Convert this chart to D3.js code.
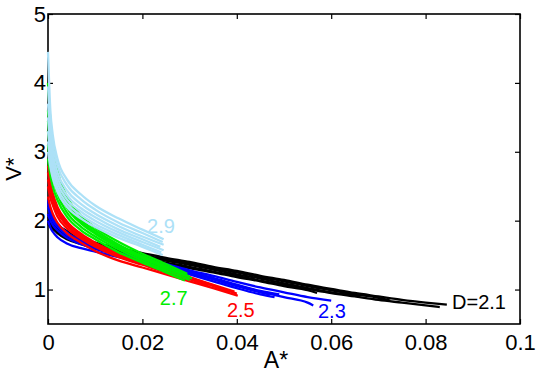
<!DOCTYPE html>
<html>
<head>
<meta charset="utf-8">
<script src="https://cdnjs.cloudflare.com/ajax/libs/d3/7.8.5/d3.min.js"></script>
<style>
body { margin: 0; background: #fff; }
svg { display: block; font-family: "Liberation Sans", Arial, Helvetica, sans-serif; }
.axis text { font-size: 22px; fill: #000; }
.axis line { stroke: #000; stroke-width: 1.2; }
.curve { fill: none; stroke-width: 2.3; stroke-linejoin: round; }
</style>
</head>
<body>
<div id="chart"></div>
<script>
// A* sample positions shared by every curve (each curve stops at its own end point)
var aGrid = [0, 0.0005, 0.001, 0.002, 0.004, 0.007, 0.01, 0.015, 0.02, 0.025, 0.03,
             0.035, 0.04, 0.045, 0.05, 0.055, 0.06, 0.065, 0.07, 0.075, 0.08];

var xTicks = [0, 0.02, 0.04, 0.06, 0.08, 0.1];
var yTicks = [1, 2, 3, 4, 5];

// D = 2.1
var d21Curves = [
    [2.1, 2.04, 2.0, 1.94, 1.85, 1.75, 1.68, 1.6, 1.53, 1.46, 1.4, 1.33, 1.27, 1.2, 1.14, 1.07, 1.01, 0.95, 0.9, 0.85, 0.81],
    [1.95, 1.91, 1.88, 1.84, 1.76, 1.68, 1.62, 1.54, 1.46, 1.39, 1.33, 1.26, 1.2, 1.13, 1.07, 1.01, 0.95, 0.9, 0.85, 0.81, 0.77],
    [2.05, 2.0, 1.96, 1.89, 1.81, 1.72, 1.65, 1.57, 1.5, 1.44, 1.38, 1.31, 1.25, 1.18, 1.12, 1.05, 0.99, 0.93, 0.88],
    [1.98, 1.93, 1.89, 1.82, 1.73, 1.66, 1.6, 1.52, 1.45, 1.38, 1.31, 1.25, 1.18, 1.12, 1.05, 0.99],
    [2.02, 1.97, 1.93, 1.87, 1.79, 1.7, 1.64, 1.56, 1.49, 1.42, 1.36, 1.29, 1.22, 1.16, 1.09, 1.02, 0.96, 0.91]
];
var d21Ends = [[0.0845, 0.78], [0.083, 0.745], [0.0725, 0.84], [0.057, 0.95], [0.066, 0.9]];

// D = 2.3
var d23Curves = [
    [2.3, 2.15, 2.06, 1.96, 1.83, 1.71, 1.63, 1.53, 1.45, 1.37, 1.28, 1.2, 1.11, 1.03, 0.96, 0.89],
    [2.0, 1.9, 1.84, 1.76, 1.67, 1.6, 1.55, 1.47, 1.4, 1.32, 1.24, 1.15, 1.06, 0.97, 0.89, 0.81],
    [2.2, 2.08, 2.0, 1.91, 1.79, 1.68, 1.61, 1.51, 1.43, 1.34, 1.25, 1.15, 1.05, 0.96],
    [2.1, 2.0, 1.94, 1.86, 1.75, 1.66, 1.59, 1.5, 1.41, 1.32, 1.22, 1.12, 1.02, 0.93],
    [2.25, 2.11, 2.03, 1.93, 1.81, 1.7, 1.62, 1.52, 1.44, 1.35, 1.26, 1.17, 1.07, 0.98]
];
var d23Ends = [[0.06, 0.84], [0.0562, 0.77], [0.047, 0.93], [0.048, 0.89], [0.049, 0.93]];

// D = 2.5
var d25Curves = [
    [2.35, 2.2, 2.1, 1.97, 1.82, 1.68, 1.56, 1.42, 1.32, 1.22, 1.12, 1.02],
    [2.8, 2.55, 2.4, 2.2, 1.99, 1.81, 1.68, 1.52, 1.4, 1.29, 1.18, 1.07],
    [2.6, 2.42, 2.3, 2.12, 1.93, 1.76, 1.64, 1.49, 1.38, 1.27, 1.16, 1.05],
    [2.7, 2.48, 2.35, 2.16, 1.96, 1.79, 1.66, 1.51, 1.39, 1.28, 1.17, 1.06],
    [2.5, 2.33, 2.23, 2.06, 1.89, 1.74, 1.62, 1.47, 1.36, 1.25, 1.15]
];
var d25Ends = [[0.0402, 0.91], [0.0395, 0.97], [0.0385, 0.96], [0.04, 0.94], [0.034, 1.05]];

// D = 2.7
var d27Curves = [
    [4.0, 3.45, 3.1, 2.72, 2.35, 2.07, 1.9, 1.69, 1.52, 1.37],
    [3.6, 3.2, 2.92, 2.6, 2.27, 2.01, 1.86, 1.65, 1.49, 1.34],
    [3.3, 2.98, 2.76, 2.48, 2.19, 1.96, 1.81, 1.61, 1.45, 1.31],
    [3.1, 2.82, 2.63, 2.39, 2.12, 1.91, 1.77, 1.58, 1.42, 1.28],
    [2.9, 2.66, 2.5, 2.3, 2.06, 1.86, 1.73, 1.54, 1.39, 1.25],
    [3.45, 3.08, 2.84, 2.54, 2.23, 1.98, 1.83, 1.63, 1.47]
];
var d27Ends = [[0.0295, 1.23], [0.03, 1.19], [0.0305, 1.16], [0.03, 1.14], [0.029, 1.13], [0.0255, 1.3]];

// D = 2.9
var d29Curves = [
    [4.45, 3.6, 3.25, 2.9, 2.6, 2.38, 2.22, 2.03, 1.87],
    [3.95, 3.4, 3.1, 2.8, 2.52, 2.31, 2.16, 1.97, 1.82],
    [3.7, 3.25, 2.98, 2.7, 2.44, 2.24, 2.1, 1.92, 1.77],
    [3.5, 3.1, 2.87, 2.62, 2.37, 2.18, 2.05, 1.87, 1.73],
    [3.3, 2.98, 2.78, 2.55, 2.31, 2.13, 2.0, 1.83, 1.69],
    [3.15, 2.88, 2.7, 2.48, 2.25, 2.08, 1.95, 1.79, 1.65],
    [3.0, 2.78, 2.62, 2.42, 2.2, 2.03, 1.91, 1.75, 1.62]
];
var d29Ends = [[0.0245, 1.73], [0.0243, 1.69], [0.0245, 1.65], [0.0238, 1.62], [0.0245, 1.57], [0.024, 1.54], [0.0243, 1.5]];

var groupNames = ["D=2.1", "2.3", "2.5", "2.7", "2.9"];
// where each group's label sits, in A*/V* units (left end of the baseline)
var labelA = [0.0856, 0.0572, 0.0379, 0.0237, 0.021];
var labelV = [0.72, 0.587, 0.60, 0.776, 1.82];

var groups = [
    {curves: d21Curves, ends: d21Ends, color: "#000000"},
    {curves: d23Curves, ends: d23Ends, color: "#0000ff"},
    {curves: d25Curves, ends: d25Ends, color: "#ff0000"},
    {curves: d27Curves, ends: d27Ends, color: "#00ee00"},
    {curves: d29Curves, ends: d29Ends, color: "#ade1f7"}
];

var W = 538, H = 376;
var margin = {top: 14, right: 18, bottom: 52, left: 48};
var width = W - margin.left - margin.right;
var height = H - margin.top - margin.bottom;

var xScale = d3.scaleLinear().domain([0, 0.1]).range([0, width]);
var yScale = d3.scaleLinear().domain([0.5, 5]).range([height, 0]);

var svg = d3.select("#chart").append("svg")
    .attr("width", W)
    .attr("height", H)
    .append("g")
    .attr("transform", "translate(" + margin.left + "," + margin.top + ")");

var fmt = function (d) { return d === 0 ? "0" : String(d); };

// axes, ticks pointing inward
svg.append("g").attr("class", "axis")
    .attr("transform", "translate(0," + height + ")")
    .call(d3.axisBottom(xScale).tickValues(xTicks).tickFormat(fmt).tickSizeInner(-5).tickSizeOuter(0).tickPadding(10))
    .call(function (g) { g.select(".domain").remove(); });
svg.append("g").attr("class", "axis")
    .call(d3.axisTop(xScale).tickValues(xTicks).tickFormat("").tickSizeInner(-5).tickSizeOuter(0))
    .call(function (g) { g.select(".domain").remove(); });
svg.append("g").attr("class", "axis")
    .call(d3.axisLeft(yScale).tickValues(yTicks).tickFormat(fmt).tickSizeInner(-5).tickSizeOuter(0).tickPadding(2))
    .call(function (g) { g.select(".domain").remove(); });
svg.append("g").attr("class", "axis")
    .attr("transform", "translate(" + width + ",0)")
    .call(d3.axisRight(yScale).tickValues(yTicks).tickFormat("").tickSizeInner(-5).tickSizeOuter(0))
    .call(function (g) { g.select(".domain").remove(); });

svg.append("rect")
    .attr("width", width)
    .attr("height", height)
    .attr("fill", "none")
    .attr("stroke", "#000")
    .attr("stroke-width", 1.6);

var line = d3.line()
    .curve(d3.curveMonotoneX)
    .x(function (d) { return xScale(d[0]); })
    .y(function (d) { return yScale(d[1]); });

groups.forEach(function (grp) {
    grp.curves.forEach(function (vals, i) {
        var pts = vals.map(function (v, j) { return [aGrid[j], v]; });
        pts.push(grp.ends[i]);
        svg.append("path")
            .datum(pts)
            .attr("class", "curve")
            .attr("d", line)
            .style("stroke", grp.color);
    });
});

groups.forEach(function (grp, i) {
    svg.append("text")
        .attr("x", xScale(labelA[i]))
        .attr("y", yScale(labelV[i]))
        .style("font-size", "20px")
        .style("fill", grp.color)
        .text(groupNames[i]);
});

svg.append("text")
    .attr("x", 228)
    .attr("y", height + 44)
    .attr("text-anchor", "middle")
    .style("font-size", "23px")
    .text("A*");

svg.append("text")
    .attr("transform", "translate(-27," + (height / 2) + ") rotate(-90)")
    .attr("text-anchor", "middle")
    .style("font-size", "22px")
    .text("V*");
</script>
</body>
</html>
